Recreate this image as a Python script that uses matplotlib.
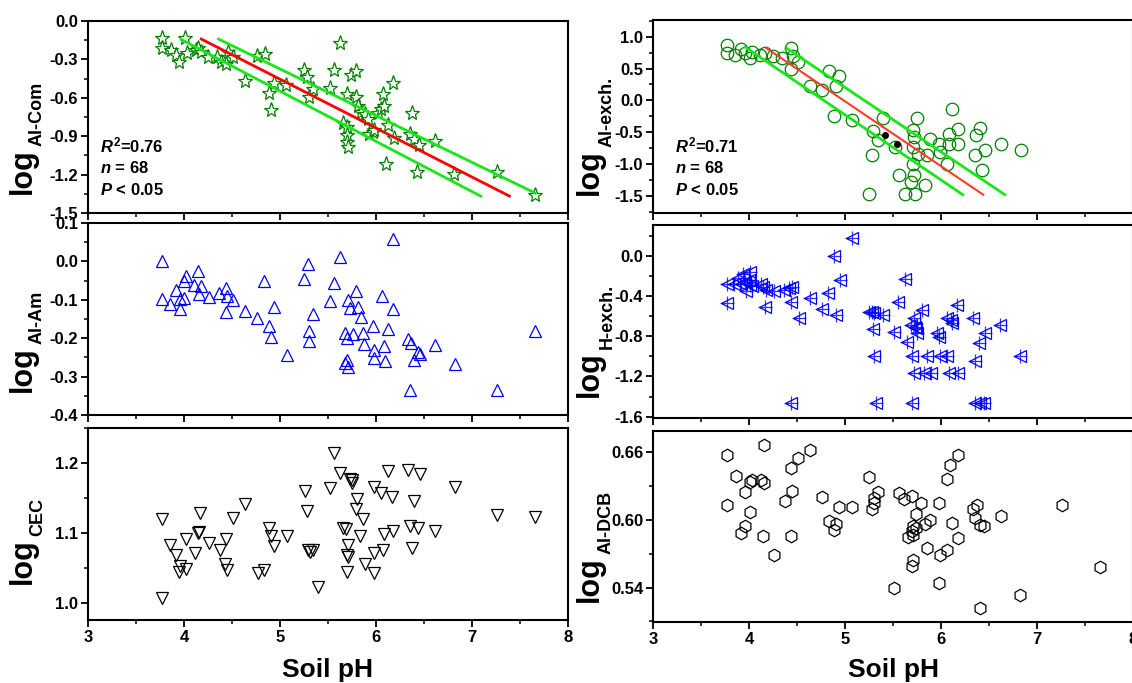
"""Soil pH vs log-transformed Al / H / CEC fractions, six scatter panels."""

import matplotlib

matplotlib.use("Agg")
import matplotlib.pyplot as plt
from matplotlib.ticker import FuncFormatter, MultipleLocator

W, H = 1132, 683

plt.rcParams.update({
    "font.family": "Liberation Sans",
    "font.weight": "bold",
    "mathtext.fontset": "custom",
    "mathtext.rm": "Liberation Sans:bold",
    "mathtext.it": "Liberation Sans:italic:bold",
    "mathtext.bf": "Liberation Sans:bold",
    "axes.linewidth": 1.5,
})

# ---- data ----
al_com_ph = [3.77, 3.77, 3.86, 3.92, 3.95, 4.01, 4.03, 4.12, 4.15, 4.18, 4.25, 4.34, 4.39, 4.44,
             4.46, 4.51, 4.64, 4.76, 4.84, 4.89, 4.91, 4.94, 5.06, 5.25, 5.28, 5.30, 5.34, 5.52,
             5.56, 5.62, 5.66, 5.70, 5.70, 5.70, 5.70, 5.71, 5.74, 5.79, 5.79, 5.81, 5.84, 5.89,
             5.92, 5.93, 5.97, 5.98, 6.02, 6.05, 6.07, 6.08, 6.10, 6.13, 6.18, 6.19, 6.35, 6.37,
             6.40, 6.43, 6.45, 6.61, 6.81, 7.26, 7.66]
al_com_log = [-0.133, -0.208, -0.227, -0.266, -0.318, -0.130, -0.252, -0.227, -0.210, -0.240,
              -0.279, -0.279, -0.318, -0.339, -0.242, -0.279, -0.470, -0.274, -0.261, -0.561,
              -0.692, -0.483, -0.501, -0.384, -0.436, -0.593, -0.535, -0.520, -0.379, -0.170,
              -0.800, -0.567, -0.828, -0.893, -0.945, -0.984, -0.423, -0.392, -0.593, -0.666,
              -0.710, -0.723, -0.762, -0.880, -0.867, -0.853, -0.718, -0.684, -0.574, -0.666,
              -1.115, -0.815, -0.488, -0.911, -0.880, -0.718, -0.919, -1.180, -0.971, -0.940,
              -1.193, -1.180, -1.363]
al_com_fit_ph = [4.18, 7.39]
al_com_fit_log = [-0.141, -1.368]
al_com_upper_ph = [4.36, 7.66]
al_com_upper_log = [-0.141, -1.345]
al_com_lower_ph = [3.97, 7.09]
al_com_lower_log = [-0.144, -1.368]

al_ex_ph = [3.77, 3.77, 3.85, 3.92, 3.96, 4.01, 4.03, 4.11, 4.17, 4.25, 4.34, 4.44, 4.46, 4.44,
            4.51, 4.64, 4.76, 4.83, 4.89, 4.91, 4.94, 5.07, 5.25, 5.28, 5.29, 5.34, 5.40, 5.52,
            5.56, 5.625, 5.69, 5.705, 5.72, 5.705, 5.71, 5.72, 5.73, 5.75, 5.76, 5.83, 5.855,
            5.89, 5.98, 5.985, 6.067, 6.08, 6.08, 6.115, 6.18, 6.18, 6.35, 6.365, 6.405, 6.43,
            6.456, 6.62, 6.83]
al_ex_log = [0.87, 0.74, 0.71, 0.80, 0.74, 0.66, 0.758, 0.71, 0.74, 0.69, 0.66, 0.82, 0.69,
             0.497, 0.60, 0.225, 0.157, 0.460, -0.246, 0.220, 0.382, -0.314, -1.475, -0.863,
             -0.486, -0.628, -0.277, -0.732, -1.166, -1.475, -1.281, -0.460, -0.575, -0.732,
             -0.994, -1.177, -1.475, -0.277, -0.837, -1.323, -0.863, -0.601, -0.690, -0.811,
             -0.994, -0.523, -0.690, -0.131, -0.690, -0.455, -0.863, -0.549, -0.429, -1.098,
             -0.774, -0.690, -0.774]
al_ex_mark_ph = [5.42, 5.545]
al_ex_mark_log = [-0.536, -0.677]
al_ex_fit_ph = [4.18, 6.44]
al_ex_fit_log = [0.821, -1.48]
al_ex_upper_ph = [4.39, 6.665]
al_ex_upper_log = [0.821, -1.48]
al_ex_lower_ph = [3.96, 6.227]
al_ex_lower_log = [0.837, -1.48]

al_am_ph = [3.77, 3.77, 3.855, 3.92, 3.96, 3.96, 4.00, 4.02, 4.00, 4.10, 4.15, 4.175, 4.155, 4.26,
            4.365, 4.44, 4.45, 4.51, 4.44, 4.64, 4.76, 4.83, 4.89, 4.91, 4.94, 5.07, 5.25, 5.29,
            5.30, 5.30, 5.34, 5.52, 5.56, 5.62, 5.68, 5.70, 5.71, 5.70, 5.68, 5.71, 5.73, 5.76,
            5.79, 5.81, 5.84, 5.86, 5.88, 5.97, 5.98, 5.98, 6.06, 6.08, 6.09, 6.12, 6.18, 6.18,
            6.335, 6.36, 6.35, 6.40, 6.44, 6.46, 6.61, 6.82, 7.26, 7.66]
al_am_log = [0.0, -0.099, -0.112, -0.074, -0.099, -0.125, -0.096, -0.039, -0.052, -0.061, -0.024,
             -0.064, -0.085, -0.094, -0.083, -0.068, -0.090, -0.100, -0.133, -0.129, -0.147,
             -0.051, -0.168, -0.196, -0.120, -0.244, -0.046, -0.007, -0.181, -0.208, -0.138,
             -0.102, -0.055, 0.011, -0.186, -0.199, -0.100, -0.256, -0.264, -0.275, -0.122,
             -0.189, -0.077, -0.118, -0.146, -0.186, -0.216, -0.168, -0.231, -0.251, -0.089,
             -0.221, -0.260, -0.175, 0.058, -0.125, -0.202, -0.212, -0.336, -0.257, -0.236,
             -0.240, -0.218, -0.266, -0.334, -0.181]

h_ex_ph = [3.773, 3.773, 3.84, 3.885, 3.915, 3.94, 3.96, 3.97, 3.996, 4.015, 4.015, 4.03, 4.126,
           4.145, 4.163, 4.175, 4.264, 4.368, 4.413, 4.45, 4.442, 4.442, 4.517, 4.64, 4.758, 4.82,
           4.888, 4.907, 4.944, 5.074, 5.253, 5.279, 5.297, 5.29, 5.305, 5.327, 5.40, 5.513,
           5.55, 5.62, 5.65, 5.688, 5.70, 5.70, 5.714, 5.717, 5.725, 5.736, 5.75, 5.80, 5.818,
           5.855, 5.892, 5.955, 5.98, 5.985, 6.06, 6.06, 6.085, 6.108, 6.115, 6.17, 6.18, 6.33,
           6.357, 6.394, 6.46, 6.357, 6.405, 6.45, 6.617, 6.82]
h_ex_log = [-0.282, -0.467, -0.282, -0.225, -0.282, -0.182, -0.258, -0.351, -0.242, -0.159,
            -0.291, -0.301, -0.282, -0.315, -0.507, -0.341, -0.348, -0.341, -0.325, -0.315,
            -0.457, -1.467, -0.616, -0.424, -0.533, -0.368, 0.0, -0.590, -0.242, 0.172, -0.556,
            -0.556, -0.566, -0.732, -0.994, -1.467, -0.590, -0.762, -0.457, -0.232, -0.861,
            -0.689, -0.994, -1.467, -1.169, -0.623, -0.706, -0.722, -0.765, -0.540, -1.169,
            -0.994, -1.169, -0.772, -0.805, -0.994, -0.994, -0.616, -1.169, -0.639, -0.672,
            -0.490, -1.169, -0.616, -1.047, -0.864, -0.765, -1.467, -1.467, -1.467, -0.689,
            -0.994]

cec_ph = [3.77, 3.77, 3.855, 3.92, 3.96, 3.95, 4.02, 4.02, 4.11, 4.16, 4.17, 4.15, 4.26, 4.375,
          4.44, 4.43, 4.45, 4.51, 4.64, 4.77, 4.835, 4.89, 4.91, 4.94, 5.07, 5.26, 5.28, 5.29,
          5.31, 5.34, 5.40, 5.52, 5.56, 5.62, 5.66, 5.69, 5.71, 5.70, 5.71, 5.70, 5.73, 5.75,
          5.75, 5.80, 5.79, 5.86, 5.83, 5.89, 5.98, 5.98, 5.98, 6.05, 6.08, 6.07, 6.12, 6.17,
          6.18, 6.33, 6.40, 6.35, 6.37, 6.44, 6.46, 6.61, 6.82, 7.26, 7.66]
cec_log = [1.120, 1.006, 1.082, 1.068, 1.053, 1.044, 1.048, 1.091, 1.071, 1.102, 1.129, 1.100,
           1.085, 1.075, 1.092, 1.056, 1.047, 1.122, 1.141, 1.043, 1.047, 1.107, 1.096, 1.081,
           1.095, 1.160, 1.132, 1.076, 1.073, 1.076, 1.022, 1.165, 1.215, 1.186, 1.107, 1.105,
           1.083, 1.068, 1.066, 1.044, 1.178, 1.176, 1.172, 1.149, 1.134, 1.120, 1.095, 1.055,
           1.166, 1.071, 1.043, 1.158, 1.099, 1.076, 1.189, 1.151, 1.103, 1.190, 1.146, 1.110,
           1.079, 1.107, 1.184, 1.103, 1.166, 1.126, 1.123]

dcb_ph = [3.766, 3.766, 3.86, 3.92, 3.96, 3.96, 4.015, 4.015, 4.03, 4.12, 4.16, 4.16, 4.145,
          4.257, 4.37, 4.435, 4.45, 4.435, 4.51, 4.64, 4.76, 4.83, 4.89, 4.91, 4.94, 5.07, 5.25,
          5.28, 5.30, 5.305, 5.34, 5.51, 5.56, 5.61, 5.66, 5.70, 5.70, 5.705, 5.705, 5.705, 5.70,
          5.74, 5.74, 5.79, 5.83, 5.855, 5.89, 5.98, 5.985, 5.98, 6.06, 6.067, 6.09, 6.18, 6.115,
          6.18, 6.33, 6.35, 6.375, 6.41, 6.45, 6.405, 6.62, 6.82, 7.26, 7.66]
dcb_log = [0.6578, 0.6133, 0.6394, 0.5881, 0.5947, 0.6252, 0.6074, 0.634, 0.6356, 0.6356, 0.6332,
           0.6664, 0.5861, 0.5689, 0.6172, 0.6465, 0.626, 0.5858, 0.6548, 0.6622, 0.6207, 0.599,
           0.5911, 0.5961, 0.6119, 0.6113, 0.6379, 0.6095, 0.6193, 0.6154, 0.6252, 0.5401,
           0.6243, 0.6184, 0.5852, 0.6213, 0.5905, 0.5947, 0.5867, 0.5644, 0.5591, 0.6053,
           0.5926, 0.6148, 0.5964, 0.5748, 0.60, 0.6148, 0.5689, 0.5443, 0.5733, 0.6364, 0.6489,
           0.6578, 0.5976, 0.5837, 0.6095, 0.6021, 0.6133, 0.5956, 0.595, 0.5215, 0.6039, 0.5333,
           0.6133, 0.5579]

stats_left = ["$R^2$=0.76", "$n$ = 68", "$P$ < 0.05"]
stats_right = ["$R^2$=0.71", "$n$ = 68", "$P$ < 0.05"]

fig = plt.figure(figsize=(W / 100, H / 100), dpi=100)


def make_axes(x0, y0, x1, y1, ylim, major, decimals, bottom_labels=False):
    ax = fig.add_axes([x0 / W, 1 - y1 / H, (x1 - x0) / W, (y1 - y0) / H])
    ax.set_xlim(3, 8)
    ax.set_ylim(*ylim)
    ax.xaxis.set_major_locator(MultipleLocator(1))
    ax.xaxis.set_minor_locator(MultipleLocator(0.5))
    ax.yaxis.set_major_locator(MultipleLocator(major))
    ax.yaxis.set_minor_locator(MultipleLocator(major / 2))
    # round first so that 0 never prints as "-0.0"
    ax.yaxis.set_major_formatter(
        FuncFormatter(lambda v, _: f"{round(v, decimals) + 0.0:.{decimals}f}"))
    ax.tick_params(which="major", direction="out", length=5, width=1.3, labelsize=12, pad=2)
    ax.tick_params(which="minor", direction="out", length=3, width=1.1)
    ax.tick_params(labelbottom=bottom_labels)
    return ax


def add_ylabel(sub, x_log, y_start, x_sub):
    t = fig.text(x_log / W, 1 - y_start / H, "log", rotation=90, rotation_mode="anchor",
                 ha="left", va="baseline", fontsize=22, fontweight="bold")
    bb = t.get_window_extent(renderer=fig.canvas.get_renderer())
    fig.text(x_sub / W, (bb.y1 + 2) / H, sub, rotation=90, rotation_mode="anchor",
             ha="left", va="baseline", fontsize=13, fontweight="bold")


def add_stats(lines, x_px):
    for line, y_px in zip(lines, [152, 173, 195]):
        fig.text(x_px / W, 1 - y_px / H, line, fontsize=12, fontweight="bold",
                 ha="left", va="baseline")


green = "#008000"
lime = "#19e619"
blue = "#0000ff"

# top-left: Al-Com
ax = make_axes(88, 21, 568, 213, (-1.5, 0.0), 0.3, 1)
ax.plot(al_com_ph, al_com_log, ls="none", marker="*", ms=11, mfc="white", mec=green, mew=0.9)
ax.plot(al_com_upper_ph, al_com_upper_log, color=lime, lw=2)
ax.plot(al_com_lower_ph, al_com_lower_log, color=lime, lw=2)
ax.plot(al_com_fit_ph, al_com_fit_log, color="#ff0000", lw=2)
add_ylabel("Al-Com", 31, 194, 42)
add_stats(stats_left, 100)

# top-right: Al-exch.
ax = make_axes(653, 20, 1133, 213, (-1.767, 1.262), 0.5, 1)
ax.plot(al_ex_ph, al_ex_log, ls="none", marker="o", ms=9, mfc="none", mec=green, mew=0.9)
ax.plot(al_ex_upper_ph, al_ex_upper_log, color=lime, lw=2)
ax.plot(al_ex_lower_ph, al_ex_lower_log, color=lime, lw=2)
ax.plot(al_ex_fit_ph, al_ex_fit_log, color="#ff3b2b", lw=1.5)
ax.plot(al_ex_mark_ph, al_ex_mark_log, ls="none", marker="o", ms=4, color="black")
add_ylabel("Al-exch.", 598, 195, 612)
add_stats(stats_right, 675)

# middle-left: Al-Am
ax = make_axes(88, 223, 568, 415, (-0.4, 0.1), 0.1, 1)
ax.plot(al_am_ph, al_am_log, ls="none", marker="^", ms=9, mfc="none", mec=blue, mew=0.9)
add_ylabel("Al-Am", 31, 392, 42)

# middle-right: H-exch.
ax = make_axes(653, 225, 1133, 418, (-1.613, 0.305), 0.4, 1)
ax.plot(h_ex_ph, h_ex_log, ls="none", marker="<", ms=8.5, mfc="none", mec=blue, mew=0.9)
ax.plot(h_ex_ph, h_ex_log, ls="none", marker="+", ms=10, mec=blue, mew=0.9, alpha=0.8)
add_ylabel("H-exch.", 598, 397, 612)

# bottom-left: CEC
ax = make_axes(88, 428, 568, 620, (0.975, 1.2507), 0.1, 1, bottom_labels=True)
ax.plot(cec_ph, cec_log, ls="none", marker="v", ms=9, mfc="none", mec="black", mew=0.9)
add_ylabel("CEC", 31, 584, 42)

# bottom-right: Al-DCB
ax = make_axes(653, 431, 1133, 622, (0.5095, 0.679), 0.06, 2, bottom_labels=True)
ax.plot(dcb_ph, dcb_log, ls="none", marker="h", ms=9, mfc="none", mec="black", mew=0.9)
add_ylabel("Al-DCB", 598, 602, 611)

for xc in (328, 893):
    fig.text(xc / W, 1 - 677 / H, "Soil pH", fontsize=19, fontweight="bold",
             ha="center", va="baseline")

fig.savefig("out.png", dpi=100, facecolor="white")
